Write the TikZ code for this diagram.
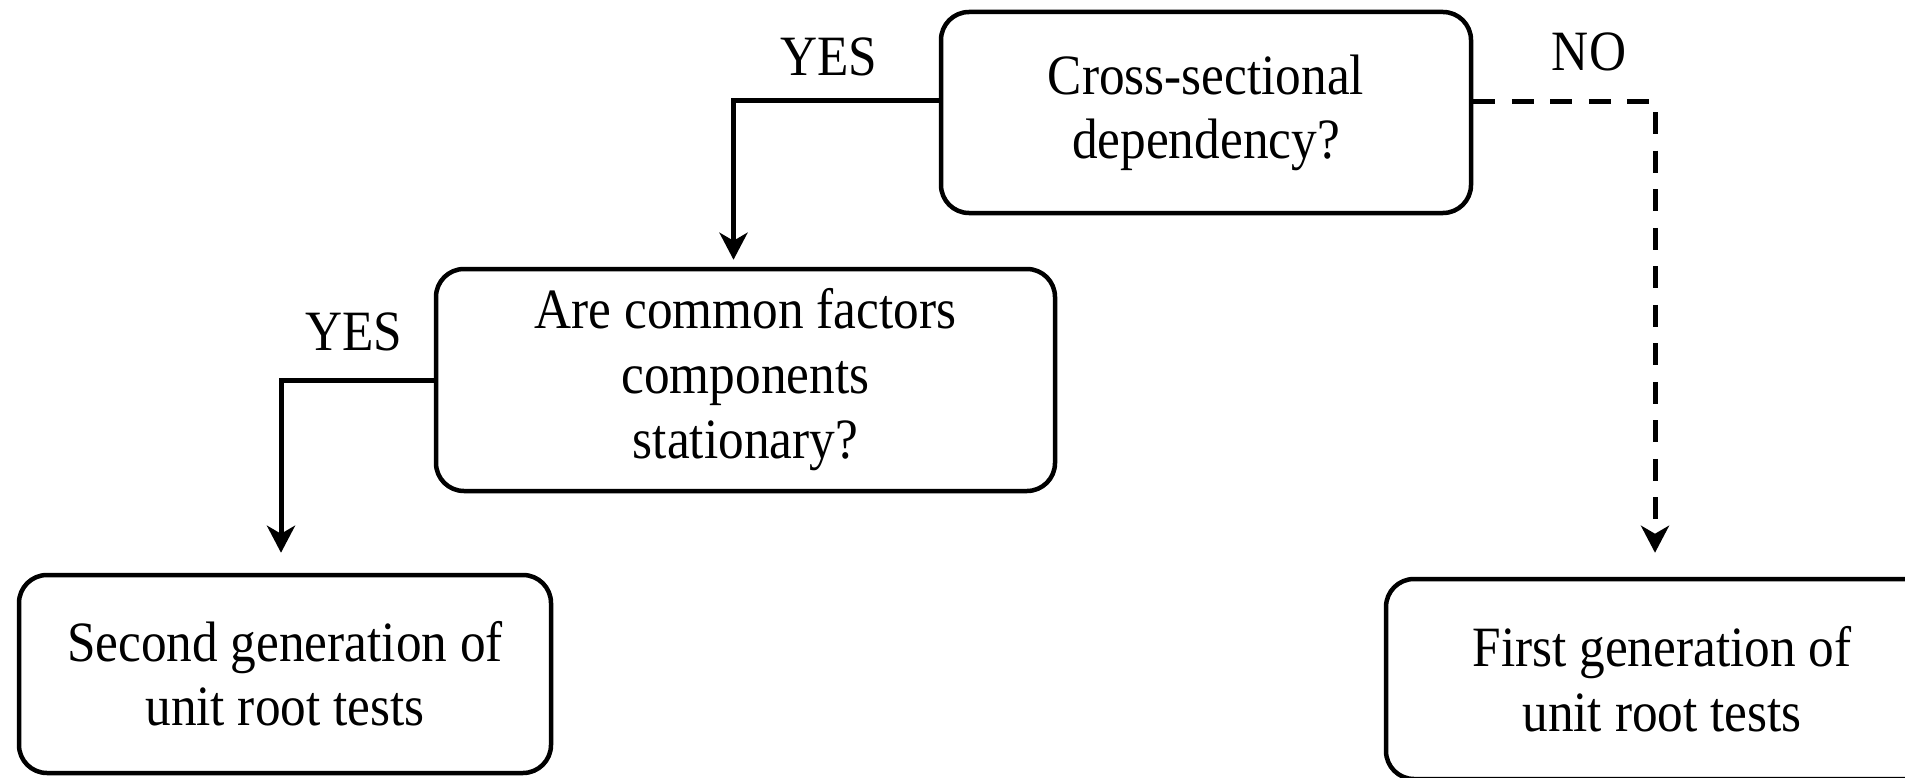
\documentclass[tikz,border=0pt]{standalone}
\usepackage{fontspec}
\setmainfont{Liberation Serif}[FakeStretch=0.9]
\usetikzlibrary{arrows.meta}
\begin{document}
\begin{tikzpicture}[x=1pt,y=-1pt,
  box/.style={draw, line width=4.5pt, rounded corners=28pt, align=center, inner sep=0pt, font=\fontsize{57}{65}\selectfont},
  conn/.style={line width=5pt, -{Stealth[length=27pt,width=28pt,inset=8pt]}},
  lbl/.style={font=\fontsize{57}{65}\selectfont, inner sep=0pt}]
\useasboundingbox (0,0) rectangle (1905,778);
\node[box, minimum width=530pt, minimum height=201pt] (top) at (1206,112.5) {\raisebox{-4pt}{Cross-sectional}\\\raisebox{-3pt}{dependency?}};
\node[box, minimum width=619pt, minimum height=222pt] (mid) at (745.5,380) {Are common factors\\components\\stationary?};
\node[box, minimum width=532pt, minimum height=198pt] (bl) at (285,674) {\raisebox{-3pt}{Second generation of}\\\raisebox{-2pt}{unit root tests}};
\node[box, minimum width=552pt, minimum height=200pt] (br) at (1662,679) {First generation of\\unit root tests};
\node[lbl] (y1) at (829,57) {YES};
\node[lbl] (y2) at (354,332) {YES};
\node[lbl] (n1) at (1589,52) {NO};
\draw[conn] ([yshift=12pt]top.west) -| ([xshift=-12pt,yshift=7pt]mid.north);
\draw[conn] (mid.west) -| ([xshift=-4pt,yshift=20pt]bl.north);
\draw[conn, dash pattern=on 22pt off 16.5pt] ([yshift=11pt]top.east) -| ([xshift=-7pt,yshift=24pt]br.north);
\end{tikzpicture}
\end{document}
